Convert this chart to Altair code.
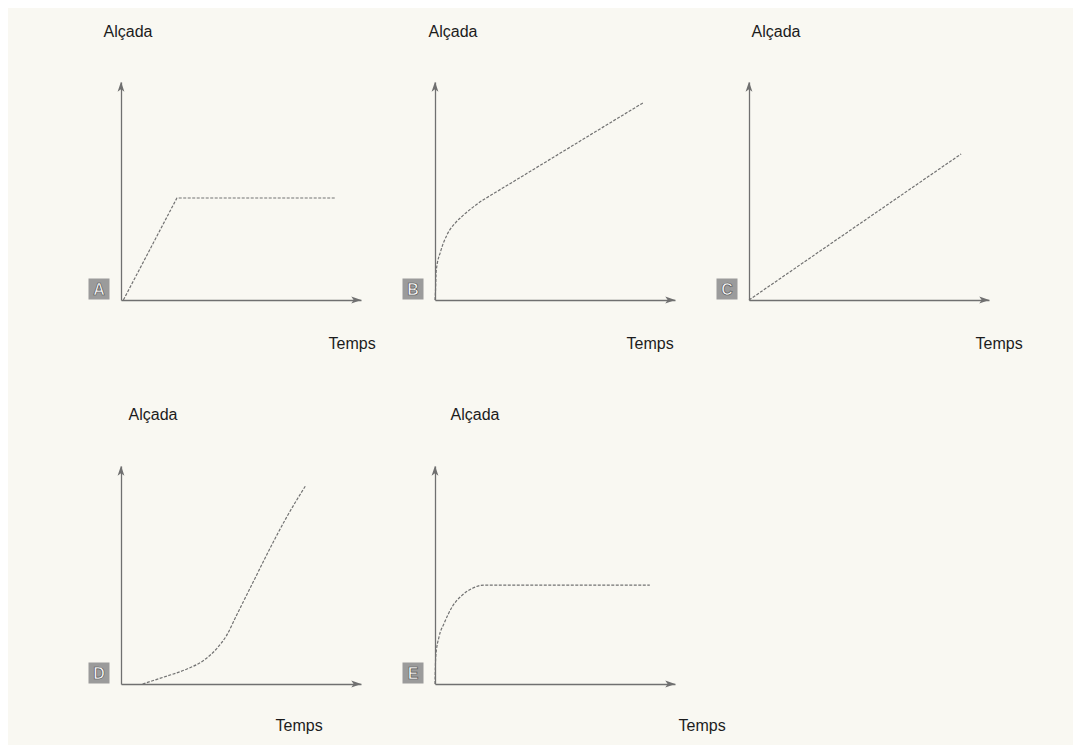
import altair as alt
import pandas as pd

# ---------------- data ----------------
letters = ["A", "B", "C", "D", "E"]

A_t = [0.1, 2.33, 8.96]
A_h = [0.0, 4.68, 4.68]

B_t = [0.0, 0.02, 0.05, 0.24, 0.51, 0.86, 1.14, 1.83, 2.53, 3.22, 5.0, 7.0, 8.71]
B_h = [0.0, 0.41, 1.33, 2.25, 3.01, 3.55, 3.85, 4.46, 4.94, 5.40, 6.59, 7.93, 9.07]

C_t = [0.0, 8.84]
C_h = [0.0, 6.70]

D_t = [0.9, 1.76, 2.73, 3.41, 3.97, 4.39, 4.8, 5.49, 6.18, 6.88, 7.71]
D_h = [0.0, 0.31, 0.68, 1.06, 1.6, 2.21, 3.12, 4.64, 6.16, 7.61, 9.13]

E_t = [0.0, 0.03, 0.17, 0.38, 0.72, 1.14, 1.56, 2.05, 8.95]
E_h = [0.0, 1.25, 2.17, 2.78, 3.55, 4.08, 4.39, 4.54, 4.54]

series_t = [A_t, B_t, C_t, D_t, E_t]
series_h = [A_h, B_h, C_h, D_h, E_h]

x_title = "Temps"
y_title = "Alçada"
AXIS_MAX = 10

# ---------------- layout / style ----------------
W, H = 240, 218
alcada_dx = [-18, -7, 2, 7, 15]
alcada_dy = [-46, -46, -46, -47, -47]
temps_dx = [207, 191, 226, 154, 243]
temps_dy = [48, 48, 48, 46, 46]
interp = ["linear", "monotone", "linear", "monotone", "monotone"]

INK = "#727272"
AXIS_INK = "#707070"
TEXT = "#1c1c1c"
FONT = "Liberation Sans"
FS = 16
UP = "M0,-1L0.65,0.9L0,0.45L-0.65,0.9Z"
RIGHT = "M1,0L-0.9,0.65L-0.45,0L-0.9,-0.65Z"


def panel(i):
    df = pd.DataFrame({"t": series_t[i], "h": series_h[i]})
    xs = alt.Scale(domain=[0, AXIS_MAX], nice=False, zero=False)
    ys = alt.Scale(domain=[0, AXIS_MAX], nice=False, zero=False)
    x_axis = alt.Axis(
        title=x_title, ticks=False, labels=False, grid=False,
        domainColor=AXIS_INK, domainWidth=1.3,
        titleX=temps_dx[i], titleY=temps_dy[i], titleAlign="left",
        titleBaseline="alphabetic", titleFont=FONT, titleFontSize=FS,
        titleFontWeight="normal", titleColor=TEXT,
    )
    y_axis = alt.Axis(
        title=y_title, ticks=False, labels=False, grid=False,
        domainColor=AXIS_INK, domainWidth=1.3,
        titleAngle=0, titleX=alcada_dx[i], titleY=alcada_dy[i],
        titleAlign="left", titleBaseline="alphabetic", titleFont=FONT,
        titleFontSize=FS, titleFontWeight="normal", titleColor=TEXT,
    )
    base = alt.Chart(df)
    line = base.mark_line(
        color=INK, strokeWidth=1.2, strokeDash=[3, 1.5],
        interpolate=interp[i], clip=False,
    ).encode(x=alt.X("t:Q", scale=xs, axis=x_axis),
             y=alt.Y("h:Q", scale=ys, axis=y_axis))

    origin = pd.DataFrame({"t": [0], "h": [0], "letter": [letters[i]]})
    tip_up = pd.DataFrame({"t": [0], "h": [AXIS_MAX]})
    tip_right = pd.DataFrame({"t": [AXIS_MAX], "h": [0]})

    up = alt.Chart(tip_up).mark_point(
        shape=UP, size=110, filled=True, color=AXIS_INK, opacity=1,
        yOffset=5, clip=False,
    ).encode(x=alt.X("t:Q", scale=xs), y=alt.Y("h:Q", scale=ys))
    right = alt.Chart(tip_right).mark_point(
        shape=RIGHT, size=110, filled=True, color=AXIS_INK, opacity=1,
        xOffset=-5, clip=False,
    ).encode(x=alt.X("t:Q", scale=xs), y=alt.Y("h:Q", scale=ys))

    box = alt.Chart(origin).mark_point(
        shape="square", size=441, filled=True, color="#9b9b9b", opacity=1,
        xOffset=-22, yOffset=-11, clip=False,
    ).encode(x=alt.X("t:Q", scale=xs), y=alt.Y("h:Q", scale=ys))
    letter = alt.Chart(origin).mark_text(
        font=FONT, fontSize=16, fontWeight="bold", color="#fbfbfb",
        stroke="#555555", strokeWidth=0.7, align="center", baseline="middle",
        dx=-22, dy=-10,
    ).encode(x=alt.X("t:Q", scale=xs), y=alt.Y("h:Q", scale=ys),
             text="letter:N")

    return alt.layer(line, up, right, box, letter).properties(width=W, height=H)


chart = alt.concat(
    *[panel(i) for i in range(5)],
    columns=3,
    spacing={"row": 166, "column": 74},
    bounds="flush",
).properties(
    padding={"left": 80, "top": 15, "right": 50, "bottom": 12},
    background="#f9f8f2",
).configure_view(stroke=None)

chart.save("out.html", embed_options={"renderer": "svg", "actions": False})
